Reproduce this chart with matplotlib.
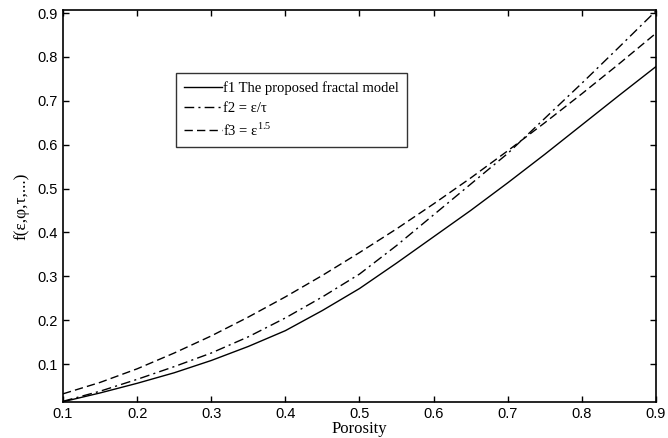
import matplotlib
matplotlib.use("Agg")
import matplotlib.pyplot as plt

# porosity values and the three curves
porosity = [0.10, 0.15, 0.20, 0.25, 0.30, 0.35, 0.40, 0.45, 0.50,
            0.55, 0.60, 0.65, 0.70, 0.75, 0.80, 0.85, 0.90]
f1 = [0.014, 0.034, 0.056, 0.080, 0.108, 0.140, 0.176, 0.222, 0.272,
      0.330, 0.390, 0.450, 0.513, 0.578, 0.645, 0.712, 0.778]
f2 = [0.015, 0.038, 0.065, 0.094, 0.125, 0.162, 0.205, 0.253, 0.305,
      0.370, 0.440, 0.510, 0.580, 0.660, 0.740, 0.822, 0.905]
f3 = [0.032, 0.058, 0.089, 0.125, 0.164, 0.207, 0.253, 0.302, 0.354,
      0.408, 0.465, 0.524, 0.586, 0.650, 0.716, 0.784, 0.854]

labels = ["f1 The proposed fractal model", r"f2 = ε/τ", r"f3 = ε$^{1.5}$"]
xticks = [0.1, 0.2, 0.3, 0.4, 0.5, 0.6, 0.7, 0.8, 0.9]
yticks = [0.1, 0.2, 0.3, 0.4, 0.5, 0.6, 0.7, 0.8, 0.9]

serif = ["Liberation Serif", "DejaVu Serif"]
plt.rcParams["mathtext.fontset"] = "custom"
plt.rcParams["mathtext.rm"] = "Liberation Serif"

fig = plt.figure(figsize=(6.68, 4.38), dpi=100)
ax = fig.add_axes([0.0943, 0.0822, 0.8877, 0.895])

ax.plot(porosity, f1, color="black", lw=1.0, ls="-", label=labels[0])
ax.plot(porosity, f2, color="black", lw=1.0, ls=(0, (7, 3, 1.5, 3)), label=labels[1])
ax.plot(porosity, f3, color="black", lw=1.0, ls=(0, (6, 3)), label=labels[2])

ax.set_xlim(0.1, 0.9)
ax.set_ylim(0.0134, 0.907)
ax.set_xticks(xticks)
ax.set_yticks(yticks)
ax.set_xticklabels([f"{t:.1f}" for t in xticks], family="Liberation Sans", fontsize=10.5)
ax.set_yticklabels([f"{t:.1f}" for t in yticks], family="Liberation Sans", fontsize=10.5)
ax.tick_params(direction="in", top=True, right=True, length=4, width=1)
for s in ax.spines.values():
    s.set_linewidth(1.2)

ax.set_xlabel("Porosity", family=serif, fontsize=12, labelpad=0)
ax.set_ylabel("f(ε,φ,τ,...)", family=serif, fontsize=12.5, labelpad=6)

leg = ax.legend(loc="upper left", bbox_to_anchor=(0.263, 0.833),
                bbox_transform=fig.transFigure, prop={"family": serif, "size": 10.5},
                frameon=True, fancybox=False, edgecolor="black",
                handlelength=2.6, handletextpad=0.1, borderpad=0.55,
                labelspacing=0.45, borderaxespad=0)
leg.get_frame().set_linewidth(1.0)

fig.savefig("out.png", dpi=100)
